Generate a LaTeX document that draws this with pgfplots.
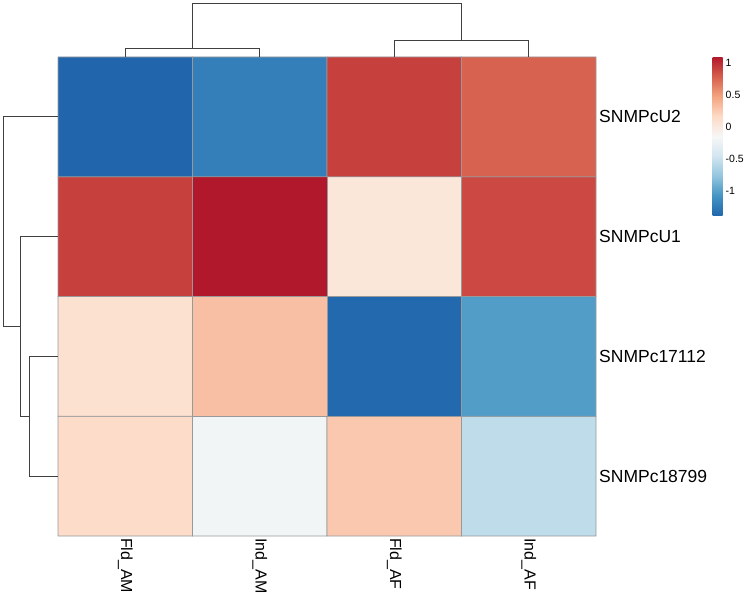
\documentclass[border=0pt]{standalone}
\usepackage{fontspec}
\setmainfont{Liberation Sans}
\usepackage{pgfplots}
\pgfplotsset{compat=1.18}
\usepackage{pgfplotstable}

\pgfplotstableread{
x y v
0.5 0.5 0.15
1.5 0.5 -0.19
2.5 0.5 0.27
3.5 0.5 -0.55
0.5 1.5 0.10
1.5 1.5 0.32
2.5 1.5 -1.37
3.5 1.5 -1.02
0.5 2.5 0.92
1.5 2.5 1.09
2.5 2.5 0.04
3.5 2.5 0.88
0.5 3.5 -1.39
1.5 3.5 -1.22
2.5 3.5 0.92
3.5 3.5 0.77
}\heat

\begin{document}
\begin{tikzpicture}
\useasboundingbox (0,0) rectangle (746pt,592pt);
\begin{axis}[
  at={(58pt,56pt)}, anchor=south west,
  scale only axis, width=538pt, height=479pt,
  xmin=0, xmax=4, ymin=0, ymax=4,
  clip=false,
  axis line style={draw=none},
  major tick length=0pt,
  xtick={0.5,1.5,2.5,3.5},
  xticklabels={Fld\_AM,Ind\_AM,Fld\_AF,Ind\_AF},
  xticklabel style={rotate=-90, anchor=west, font=\fontsize{16}{19}\selectfont, inner sep=0pt, xshift=2pt},
  ytick={0.5,1.5,2.5,3.5},
  yticklabels={SNMPc18799,SNMPc17112,SNMPcU1,SNMPcU2},
  yticklabel pos=right,
  yticklabel style={anchor=west, font=\fontsize{17.5}{20}\selectfont, inner sep=0pt, xshift=3pt},
  colormap={rdbu}{rgb255=(33,102,172) rgb255=(67,147,195) rgb255=(146,197,222) rgb255=(209,229,240) rgb255=(247,247,247) rgb255=(253,219,199) rgb255=(244,165,130) rgb255=(214,96,77) rgb255=(178,24,43)},
  point meta min=-1.39, point meta max=1.09,
  colorbar,
  colorbar style={
    at={(parent axis.north east)}, anchor=north west, xshift=108pt,
    scale only axis, width=10pt, height=159pt,
    axis line style={draw=none},
    major tick length=0pt,
    ytick={-1,-0.5,0,0.5,1},
    yticklabels={-1,-0.5,0,0.5,1},
    yticklabel style={font=\fontsize{10.5}{12}\selectfont, inner sep=0pt, anchor=west, xshift=3pt},
  },
]
\addplot[matrix plot*, mesh/cols=4, point meta=explicit, draw=black!40, line width=0.8pt] table[x=x, y=y, meta=v] {\heat};
% column dendrogram
\addplot[black!75, line width=0.8pt, mark=none] coordinates {(0.5,4) (0.5,4.075) (1.5,4.075) (1.5,4)};
\addplot[black!75, line width=0.8pt, mark=none] coordinates {(2.5,4) (2.5,4.142) (3.5,4.142) (3.5,4)};
\addplot[black!75, line width=0.8pt, mark=none] coordinates {(1.0,4.075) (1.0,4.451) (3.0,4.451) (3.0,4.142)};
% row dendrogram
\addplot[black!75, line width=0.8pt, mark=none] coordinates {(0,1.5) (-0.216,1.5) (-0.216,0.5) (0,0.5)};
\addplot[black!75, line width=0.8pt, mark=none] coordinates {(0,2.5) (-0.283,2.5) (-0.283,1.0) (-0.216,1.0)};
\addplot[black!75, line width=0.8pt, mark=none] coordinates {(0,3.5) (-0.409,3.5) (-0.409,1.75) (-0.283,1.75)};
\end{axis}
\end{tikzpicture}
\end{document}
